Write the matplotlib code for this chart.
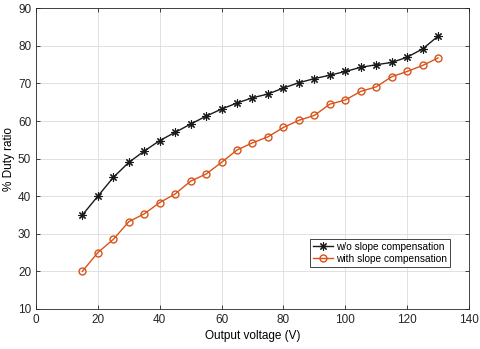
import matplotlib
matplotlib.use("Agg")
import matplotlib.pyplot as plt

# ── DATA ──────────────────────────────────────────────────────────────────────
voltage = [15, 20, 25, 30, 35, 40, 45, 50, 55, 60, 65, 70,
           75, 80, 85, 90, 95, 100, 105, 110, 115, 120, 125, 130]
duty_wo = [35.0, 40.0, 45.0, 49.0, 52.0, 54.8, 57.0, 59.2, 61.3, 63.2, 64.8, 66.2,
           67.2, 68.8, 70.2, 71.3, 72.2, 73.2, 74.3, 75.0, 75.6, 77.0, 79.2, 82.6]
duty_with = [20.0, 25.0, 28.5, 33.2, 35.3, 38.3, 40.6, 44.0, 45.9, 49.0, 52.3, 54.2,
             55.8, 58.3, 60.2, 61.5, 64.5, 65.6, 67.9, 69.1, 71.8, 73.2, 74.8, 76.8]
x_ticks = [0, 20, 40, 60, 80, 100, 120, 140]
y_ticks = [10, 20, 30, 40, 50, 60, 70, 80, 90]

# ── PLOT ──────────────────────────────────────────────────────────────────────
plt.rcParams["font.family"] = ["Liberation Sans", "DejaVu Sans"]

fig = plt.figure(figsize=(4.8, 3.49), dpi=100)
ax = fig.add_axes([0.075, 0.115, 0.902, 0.861])

# MATLAB-style asterisk: 8 arms
ax.plot(voltage, duty_wo, color="#1a1a1a", linewidth=1.0, marker=(8, 2, 0),
        markersize=6, markeredgewidth=0.8, label="w/o slope compensation")
ax.plot(voltage, duty_with, color="#D95319", linewidth=1.0, marker="o",
        markersize=5, markerfacecolor="none", label="with slope compensation")

ax.set_xlim(0, 140)
ax.set_ylim(10, 90)
ax.set_xticks(x_ticks)
ax.set_yticks(y_ticks)
ax.tick_params(direction="in", labelsize=8.5, length=3, width=0.6,
               top=True, right=True, colors="#262626")
ax.grid(True, color="#dcdcdc", linewidth=0.6)
for s in ax.spines.values():
    s.set_linewidth(0.6)
    s.set_color("#262626")

ax.set_xlabel("Output voltage (V)", fontsize=8.5, labelpad=3)
ax.set_ylabel("% Duty ratio", fontsize=8.5, labelpad=2)

leg = ax.legend(loc="lower right", bbox_to_anchor=(0.968, 0.123), fontsize=7.3,
                fancybox=False, framealpha=1, edgecolor="#262626",
                handlelength=2.0, handletextpad=0.3, borderpad=0.3,
                labelspacing=0.2)
leg.get_frame().set_linewidth(0.6)

fig.savefig("out.png", dpi=100)
